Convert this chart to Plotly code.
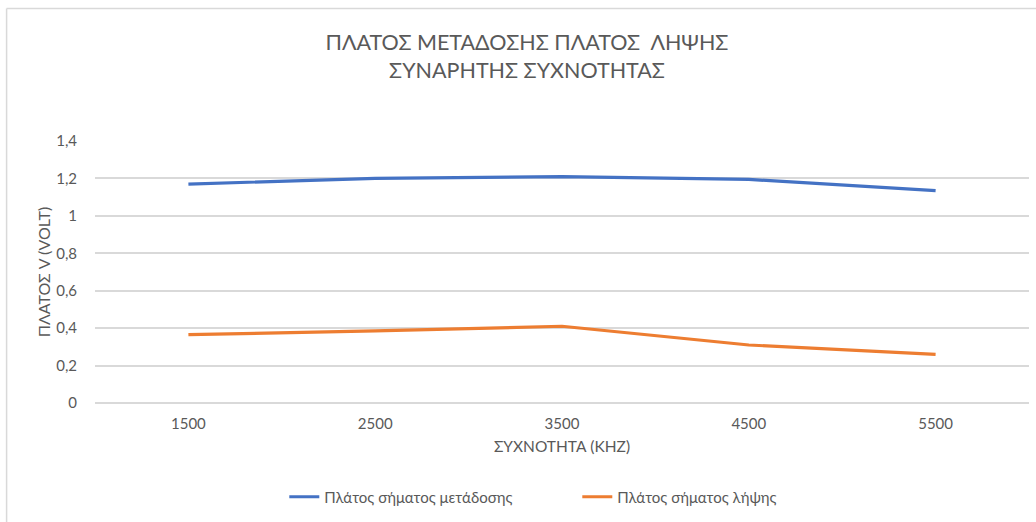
import plotly.graph_objects as go

categories = ["1500", "2500", "3500", "4500", "5500"]
transmit = [1.17, 1.20, 1.21, 1.195, 1.135]
receive = [0.365, 0.385, 0.41, 0.31, 0.26]
series_names = ["Πλάτος σήματος μετάδοσης", "Πλάτος σήματος λήψης"]
y_ticks = [0, 0.2, 0.4, 0.6, 0.8, 1.0, 1.2, 1.4]
y_tick_text = ["0", "0,2", "0,4", "0,6", "0,8", "1", "1,2", "1,4"]

W, H = 1036, 522
L, R, T, B = 94.5, 6.5, 141, 119
pw, ph = W - L - R, H - T - B

def px_x(x):
    return (x - L) / pw

def px_y(y):
    return (H - B - y) / ph

FONT = "Lato, 'Noto Sans', sans-serif"
GREY = "#595959"

fig = go.Figure()
fig.add_trace(go.Scatter(x=categories, y=transmit, mode="lines", name=series_names[0],
                         line=dict(color="#4472C4", width=3.2)))
fig.add_trace(go.Scatter(x=categories, y=receive, mode="lines", name=series_names[1],
                         line=dict(color="#ED7D31", width=3.2)))

fig.update_layout(
    width=W, height=H,
    margin=dict(l=L, r=R, t=T, b=B, autoexpand=False),
    paper_bgcolor="white", plot_bgcolor="white",
    separators=",.",
    font=dict(family=FONT, color=GREY, size=15),
    title=dict(text="ΠΛΑΤΟΣ ΜΕΤΑΔΟΣΗΣ ΠΛΑΤΟΣ  ΛΗΨΗΣ<br>ΣΥΝΑΡΗΤΗΣ ΣΥΧΝΟΤΗΤΑΣ",
               x=527 / W, xref="container", xanchor="center",
               y=1 - 50 / H, yref="container", yanchor="middle",
               font=dict(size=21.5, color=GREY, family=FONT)),
    showlegend=True,
    legend=dict(orientation="h", x=px_x(284), xanchor="left", y=px_y(497), yanchor="middle",
                font=dict(size=15, color=GREY, family=FONT), entrywidth=248, itemwidth=30,
                bgcolor="rgba(0,0,0,0)"),
    xaxis=dict(type="category", range=[-0.5, 4.5], showgrid=False, showline=False,
               automargin=False,
               zeroline=False, ticks="", ticklabelstandoff=10,
               tickfont=dict(size=15, color=GREY),
               title=dict(text="ΣΥΧΝΟΤΗΤΑ (KHZ)", standoff=10,
                          font=dict(size=15.5, color=GREY))),
    yaxis=dict(range=[0, 1.4], tickvals=y_ticks, ticktext=y_tick_text,
               automargin=False,
               showgrid=True, gridcolor="#d9d9d9", gridwidth=1.5,
               zeroline=True, zerolinecolor="#d9d9d9", zerolinewidth=1.5,
               showline=False, ticks="", ticklabelstandoff=17,
               tickfont=dict(size=15, color=GREY),
               title=dict(text="ΠΛΑΤΟΣ V (VOLT)", standoff=1,
                          font=dict(size=16, color=GREY))),
    shapes=[
        dict(type="line", xref="paper", yref="paper", x0=px_x(6), x1=px_x(1040),
             y0=px_y(8.5), y1=px_y(8.5), line=dict(color="#d9d9d9", width=1.5), layer="above"),
        dict(type="line", xref="paper", yref="paper", x0=px_x(6), x1=px_x(6),
             y0=px_y(8.5), y1=px_y(530), line=dict(color="#d9d9d9", width=1.5), layer="above"),
    ],
)

fig.write_html("out.html", config={"displayModeBar": False},
               post_script="document.body.style.margin='0';document.body.style.overflow='hidden';")
